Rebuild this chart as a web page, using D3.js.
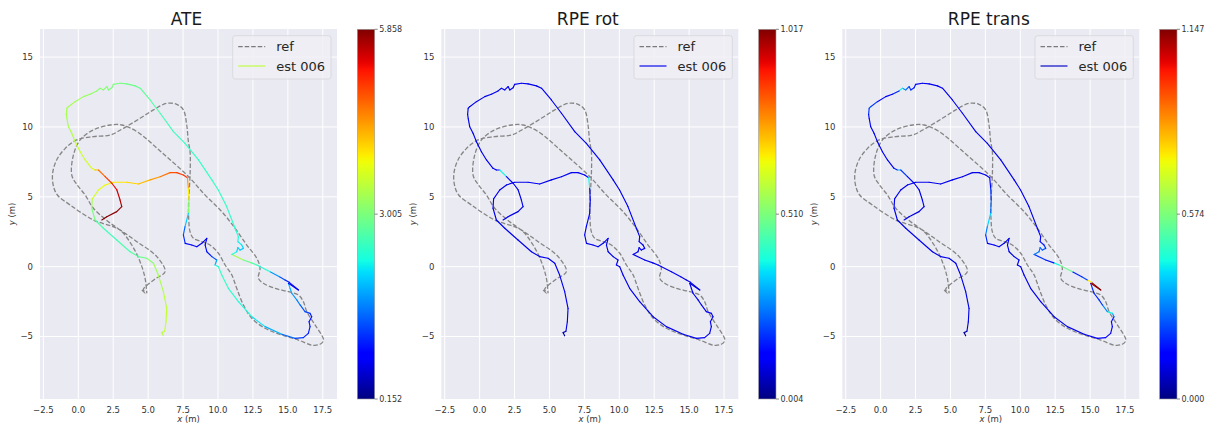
<!DOCTYPE html>
<html>
<head>
<meta charset="utf-8">
<script src="https://cdn.jsdelivr.net/npm/d3@7"></script>
<style>
  body { margin: 0; background: #ffffff; }
  text { font-family: "DejaVu Sans", sans-serif; }
</style>
</head>
<body>
<svg id="chart" width="1217" height="425"></svg>
<script>
// Reference trajectory (metres)
const refX = [4.55, 4.78, 4.66, 4.9, 5.5, 6.21, 5.62, 4.19, 2.75, 1.08, -0.59, -1.5, -1.79, -1.84, -1.55, -0.95, -0.12, 1.08, 2.28, 3.23, 4.42, 5.38, 6.33, 7.04, 7.52, 7.76, 7.88, 8.0, 8.0, 7.9, 7.9, 8.0, 8.24, 8.84, 9.43, 10.03, 10.51, 10.99, 11.34, 11.82, 12.42, 13.37, 14.57, 15.76, 16.75, 17.3, 17.55, 17.5, 16.95, 16.36, 16.11, 15.76, 15.04, 14.09, 13.25, 12.89, 13.01, 12.78, 12.06, 11.22, 10.27, 9.08, 7.88, 6.0, 4.19, 3.11, 2.28, 1.08, 0.13, -0.35, -0.47, -0.12, 0.49, 1.08, 2.15, 3.11, 3.83, 4.42, 4.78, 4.9];
const refY = [-1.67, -1.88, -1.6, -1.35, -0.88, -0.36, 0.72, 1.79, 2.75, 3.34, 4.42, 5.13, 5.8, 6.68, 7.64, 8.45, 9.07, 9.31, 9.42, 9.9, 10.62, 11.22, 11.69, 11.62, 11.22, 10.14, 8.95, 8.23, 6.56, 4.77, 3.5, 2.5, 2.03, 1.79, 1.55, 0.96, 0.12, -0.6, -1.55, -2.74, -3.69, -4.41, -4.89, -5.25, -5.62, -5.55, -5.3, -5.05, -4.17, -3.22, -2.5, -2.03, -1.79, -1.55, -1.19, -0.83, -0.12, 0.6, 1.55, 2.75, 3.94, 5.12, 6.45, 8.15, 9.67, 10.14, 10.14, 9.79, 9.07, 8.0, 6.56, 5.9, 5.13, 4.18, 3.22, 2.51, 1.55, 0.36, -0.83, -1.9];

// Estimated trajectory "est 006" (metres)
const estX = [6.09, 5.98, 6.18, 6.28, 6.33, 6.09, 5.73, 5.38, 4.9, 4.3, 3.71, 2.75, 1.8, 1.2, 0.96, 1.0, 1.44, 1.92, 2.51, 3.47, 4.3, 5.14, 5.86, 6.57, 7.05, 7.52, 7.81, 7.88, 7.92, 7.88, 7.64, 7.52, 7.65, 8.12, 8.48, 8.84, 9.2, 9.08, 9.2, 9.56, 9.91, 9.79, 10.03, 10.27, 10.74, 11.46, 12.42, 13.37, 14.57, 15.52, 16.11, 16.47, 16.59, 16.52, 16.71, 16.59, 16.23, 15.88, 15.64, 15.28, 15.16, 15.04, 15.76, 15.1, 14.8, 14.4, 13.73, 12.78, 12.4, 11.82, 10.99, 11.34, 11.42, 11.58, 11.82, 11.7, 11.42, 11.46, 11.22, 10.62, 10.02, 9.56, 8.6, 7.64, 6.81, 5.86, 5.14, 4.43, 4.07, 3.47, 2.99, 2.51, 2.4, 2.16, 2.04, 1.8, 1.56, 1.32, 0.84, 0.37, -0.23, -0.71, -0.82, -0.86, -0.82, -0.71, -0.47, -0.23, 0.13, 0.49, 0.96, 1.2, 1.44, 1.92, 2.4, 2.76, 2.99, 3.11, 2.75, 2.04, 1.68];
const estY = [-4.95, -4.72, -4.62, -3.94, -2.98, -1.79, -0.6, 0.24, 0.6, 0.72, 1.07, 1.91, 2.75, 3.34, 4.18, 4.85, 5.49, 5.85, 6.04, 6.04, 5.92, 6.21, 6.44, 6.73, 6.73, 6.56, 6.37, 5.61, 4.77, 3.82, 2.86, 2.27, 1.67, 1.55, 1.43, 1.67, 2.03, 1.55, 1.07, 0.72, 0.48, 0.12, 0, -0.6, -1.55, -2.5, -3.58, -4.29, -4.84, -5.13, -5.08, -4.77, -4.29, -3.94, -3.58, -3.34, -3.22, -2.74, -2.38, -1.9, -1.55, -1.19, -1.67, -1.12, -0.95, -0.72, -0.36, 0.12, 0.27, 0.48, 0.88, 1.07, 1.36, 1.19, 1.31, 1.55, 1.79, 2.15, 2.75, 4.3, 5.49, 6.21, 7.64, 8.83, 9.67, 10.98, 11.93, 12.77, 12.94, 13.08, 13.13, 13.05, 12.81, 12.65, 12.89, 12.65, 12.77, 12.58, 12.34, 12.17, 11.81, 11.45, 11.34, 10.9, 10.62, 10.02, 9.55, 8.95, 8.23, 7.64, 7.04, 6.92, 6.92, 6.44, 5.97, 5.49, 4.77, 4.3, 3.94, 3.58, 3.34];

// Error of each pose (value i colours the segment that ends at pose i)
const ateErr = [3.45, 3.45, 3.45, 3.5, 3.5, 3.45, 3.35, 3.25, 3.1, 2.9, 2.75, 2.65, 2.6, 2.7, 3.0, 3.3, 3.6, 3.75, 3.85, 3.95, 4.05, 4.2, 4.4, 4.65, 4.85, 5.0, 5.05, 4.4, 3.9, 3.1, 2.0, 1.4, 1.1, 0.9, 0.85, 0.8, 0.7, 0.75, 0.9, 1.0, 1.3, 1.8, 2.3, 2.5, 2.5, 2.45, 2.35, 2.15, 1.85, 1.45, 1.2, 1.05, 1.0, 1.0, 0.95, 1.0, 1.2, 1.35, 1.55, 1.7, 1.8, 1.9, 0.7, 0.8, 1.0, 1.3, 1.7, 2.4, 2.7, 2.9, 3.3, 2.4, 2.1, 2.0, 2.0, 2.1, 2.2, 2.3, 2.4, 2.45, 2.5, 2.5, 2.5, 2.5, 2.55, 2.6, 2.7, 2.8, 2.85, 2.9, 2.95, 3.0, 3.0, 3.0, 3.05, 3.05, 3.1, 3.1, 3.15, 3.2, 3.25, 3.3, 3.3, 3.3, 3.3, 3.3, 3.35, 3.4, 3.5, 3.55, 3.6, 3.7, 4.2, 4.7, 5.0, 5.3, 5.5, 5.65, 5.75, 5.8, 5.858];
const rpeRot = [0.1, 0.04, 0.05, 0.09, 0.1, 0.1, 0.11, 0.1, 0.1, 0.11, 0.1, 0.1, 0.1, 0.11, 0.1, 0.1, 0.11, 0.1, 0.1, 0.1, 0.11, 0.1, 0.1, 0.11, 0.1, 0.1, 0.12, 0.38, 0.12, 0.1, 0.11, 0.1, 0.1, 0.1, 0.11, 0.1, 0.1, 0.11, 0.1, 0.1, 0.1, 0.11, 0.1, 0.1, 0.1, 0.11, 0.1, 0.1, 0.1, 0.1, 0.11, 0.1, 0.1, 0.11, 0.1, 0.1, 0.1, 0.11, 0.1, 0.1, 0.1, 0.1, 0.09, 0.09, 0.1, 0.1, 0.11, 0.1, 0.1, 0.1, 0.1, 0.11, 0.1, 0.1, 0.11, 0.1, 0.1, 0.1, 0.1, 0.11, 0.1, 0.1, 0.1, 0.11, 0.1, 0.1, 0.1, 0.11, 0.1, 0.1, 0.1, 0.11, 0.1, 0.1, 0.11, 0.1, 0.1, 0.1, 0.11, 0.1, 0.1, 0.1, 0.11, 0.1, 0.1, 0.1, 0.11, 0.1, 0.1, 0.1, 0.11, 0.12, 0.14, 0.38, 0.12, 0.1, 0.1, 0.11, 0.1, 0.1, 0.1];
const rpeTrans = [0.07, 0.02, 0.03, 0.09, 0.1, 0.1, 0.1, 0.11, 0.1, 0.11, 0.1, 0.11, 0.11, 0.1, 0.11, 0.12, 0.11, 0.1, 0.11, 0.11, 0.1, 0.11, 0.11, 0.11, 0.1, 0.11, 0.12, 0.15, 0.2, 0.26, 0.38, 0.28, 0.18, 0.13, 0.11, 0.11, 0.1, 0.11, 0.11, 0.1, 0.11, 0.11, 0.11, 0.1, 0.11, 0.11, 0.11, 0.11, 0.11, 0.12, 0.13, 0.12, 0.12, 0.13, 0.16, 0.3, 0.42, 0.3, 0.2, 0.18, 0.18, 0.2, 1.1, 1.147, 0.75, 0.22, 0.18, 0.55, 0.42, 0.16, 0.2, 0.28, 0.27, 0.26, 0.24, 0.2, 0.17, 0.14, 0.12, 0.11, 0.11, 0.11, 0.11, 0.1, 0.11, 0.11, 0.11, 0.11, 0.12, 0.11, 0.11, 0.12, 0.15, 0.18, 0.2, 0.24, 0.3, 0.42, 0.18, 0.14, 0.13, 0.2, 0.24, 0.2, 0.15, 0.13, 0.11, 0.11, 0.11, 0.12, 0.11, 0.18, 0.35, 0.2, 0.14, 0.12, 0.11, 0.11, 0.11, 0.1, 0.1];

// Panels: title, error per pose, colour bar range
const panelTitles = ["ATE", "RPE rot", "RPE trans"];
const panelErrors = [ateErr, rpeRot, rpeTrans];
const colorMin = [0.152, 0.004, 0.000];
const colorMax = [5.858, 1.017, 1.147];

const xTicks = [-2.5, 0, 2.5, 5, 7.5, 10, 12.5, 15, 17.5];
const yTicks = [-5, 0, 5, 10, 15];
const legendLabels = ["ref", "est 006"];

// ---- layout ----
const svg = d3.select("#chart");
const plotW = 297, plotH = 370, plotTop = 29;
const panelLeft = [40, 441.3, 842.3];
const xDomain = [-2.744, 18.52];
const yDomain = [-9.47, 17.01];

// matplotlib "jet" colour map
const jetR = d3.scaleLinear().domain([0, 0.35, 0.66, 0.89, 1]).range([0, 0, 1, 1, 0.5]).clamp(true);
const jetG = d3.scaleLinear().domain([0, 0.125, 0.375, 0.64, 0.91, 1]).range([0, 0, 1, 1, 0, 0]).clamp(true);
const jetB = d3.scaleLinear().domain([0, 0.11, 0.34, 0.65, 1]).range([0.5, 1, 1, 0, 0]).clamp(true);
const jet = t => d3.rgb(jetR(t) * 255, jetG(t) * 255, jetB(t) * 255).formatHex();

const refPts = refX.map((x, i) => [x, refY[i]]);
const estPts = estX.map((x, i) => [x, estY[i]]);

const defs = svg.append("defs");
const gradient = defs.append("linearGradient")
  .attr("id", "jetGrad").attr("x1", 0).attr("y1", 1).attr("x2", 0).attr("y2", 0);
d3.range(0, 1.0001, 1 / 64).forEach(t => {
  gradient.append("stop").attr("offset", t).attr("stop-color", jet(t));
});

const fmtX = d3.format(".1f");
const fmtY = d3.format("d");
const fmtC = d3.format(".3f");

panelTitles.forEach((title, p) => {
  const left = panelLeft[p];
  const g = svg.append("g").attr("transform", `translate(${left},${plotTop})`);
  const x = d3.scaleLinear().domain(xDomain).range([0, plotW]);
  const y = d3.scaleLinear().domain(yDomain).range([plotH, 0]);
  const errs = panelErrors[p];
  const cScale = d3.scaleLinear().domain([colorMin[p], colorMax[p]]).range([0, 1]).clamp(true);

  g.append("clipPath").attr("id", "clip" + p)
    .append("rect").attr("width", plotW).attr("height", plotH);

  // axes background and grid
  g.append("rect").attr("width", plotW).attr("height", plotH).attr("fill", "#eaeaf2");
  g.selectAll(".gx").data(xTicks).join("line")
    .attr("x1", d => x(d)).attr("x2", d => x(d)).attr("y1", 0).attr("y2", plotH)
    .attr("stroke", "#ffffff").attr("stroke-width", 1);
  g.selectAll(".gy").data(yTicks).join("line")
    .attr("y1", d => y(d)).attr("y2", d => y(d)).attr("x1", 0).attr("x2", plotW)
    .attr("stroke", "#ffffff").attr("stroke-width", 1);

  // tick labels
  g.selectAll(".tx").data(xTicks).join("text")
    .attr("x", d => x(d)).attr("y", plotH + 13.5)
    .attr("text-anchor", "middle").attr("font-size", 8.5).attr("fill", "#333")
    .text(d => fmtX(d));
  g.selectAll(".ty").data(yTicks).join("text")
    .attr("x", -7).attr("y", d => y(d)).attr("dy", "0.34em")
    .attr("text-anchor", "end").attr("font-size", 8.5).attr("fill", "#333")
    .text(d => fmtY(d));

  // axis labels
  const xl = g.append("text").attr("x", plotW / 2).attr("y", plotH + 22.5)
    .attr("text-anchor", "middle").attr("font-size", 8.5).attr("fill", "#333");
  xl.append("tspan").attr("font-style", "italic").text("x");
  xl.append("tspan").text(" (m)");
  const yl = g.append("text")
    .attr("transform", `translate(${-25},${plotH / 2}) rotate(-90)`)
    .attr("text-anchor", "middle").attr("font-size", 8.5).attr("fill", "#333");
  yl.append("tspan").attr("font-style", "italic").text("y");
  yl.append("tspan").text(" (m)");

  // title
  g.append("text").attr("x", plotW / 2 - 2).attr("y", -4)
    .attr("text-anchor", "middle").attr("font-size", 17).attr("fill", "#1a1a1a")
    .text(title);

  const marks = g.append("g").attr("clip-path", `url(#clip${p})`);

  // reference path, dashed grey
  const line = d3.line().x(d => x(d[0])).y(d => y(d[1])).curve(d3.curveCatmullRom.alpha(0.5));
  marks.append("path").datum(refPts).attr("d", line)
    .attr("fill", "none").attr("stroke", "#7a7a7a").attr("stroke-width", 1.3)
    .attr("stroke-dasharray", "4.5,2").attr("stroke-opacity", 0.9);

  // estimated path, each segment coloured by its error
  const segs = d3.range(1, estPts.length).map(i => ({ a: estPts[i - 1], b: estPts[i], v: errs[i] }));
  marks.selectAll(".seg").data(segs).join("line")
    .attr("x1", d => x(d.a[0])).attr("y1", d => y(d.a[1]))
    .attr("x2", d => x(d.b[0])).attr("y2", d => y(d.b[1]))
    .attr("stroke", d => jet(cScale(d.v))).attr("stroke-width", 1.15)
    .attr("stroke-linecap", "round");

  // legend
  const lg = g.append("g").attr("transform", `translate(${plotW - 104.3},${6.7})`);
  lg.append("rect").attr("width", 98.3).attr("height", 43.3).attr("rx", 2.5)
    .attr("fill", "#eeeef4").attr("fill-opacity", 0.85)
    .attr("stroke", "#d4d4dc").attr("stroke-width", 0.8);
  lg.append("line").attr("x1", 5.5).attr("x2", 32.5).attr("y1", 11).attr("y2", 11)
    .attr("stroke", "#7a7a7a").attr("stroke-width", 1.3).attr("stroke-dasharray", "4.5,2");
  lg.append("line").attr("x1", 5.5).attr("x2", 32.5).attr("y1", 30.3).attr("y2", 30.3)
    .attr("stroke", jet(cScale(errs[0]))).attr("stroke-width", 1.15);
  lg.selectAll(".lt").data(legendLabels).join("text")
    .attr("x", 43.5).attr("y", (d, i) => 11 + i * 19.3).attr("dy", "0.36em")
    .attr("font-size", 13).attr("fill", "#262626").text(d => d);

  // colour bar
  const cbX = 317.3, cbW = 17.4;
  const cb = g.append("g").attr("transform", `translate(${cbX},0.3)`);
  const cbH = plotH - 0.3;
  cb.append("rect").attr("width", cbW).attr("height", cbH)
    .attr("fill", "url(#jetGrad)").attr("stroke", "#9a9a9a").attr("stroke-width", 0.6);
  const cbY = d3.scaleLinear().domain([colorMin[p], colorMax[p]]).range([cbH, 0]);
  const cbTicks = [colorMin[p], (colorMin[p] + colorMax[p]) / 2, colorMax[p]];
  cb.selectAll(".ct").data(cbTicks).join("line")
    .attr("x1", cbW).attr("x2", cbW + 3).attr("y1", d => cbY(d)).attr("y2", d => cbY(d))
    .attr("stroke", "#555").attr("stroke-width", 0.7);
  cb.selectAll(".cl").data(cbTicks).join("text")
    .attr("x", cbW + 4.5).attr("y", d => cbY(d)).attr("dy", "0.34em")
    .attr("font-size", 8).attr("fill", "#333").text(d => fmtC(d));
});
</script>
</body>
</html>
